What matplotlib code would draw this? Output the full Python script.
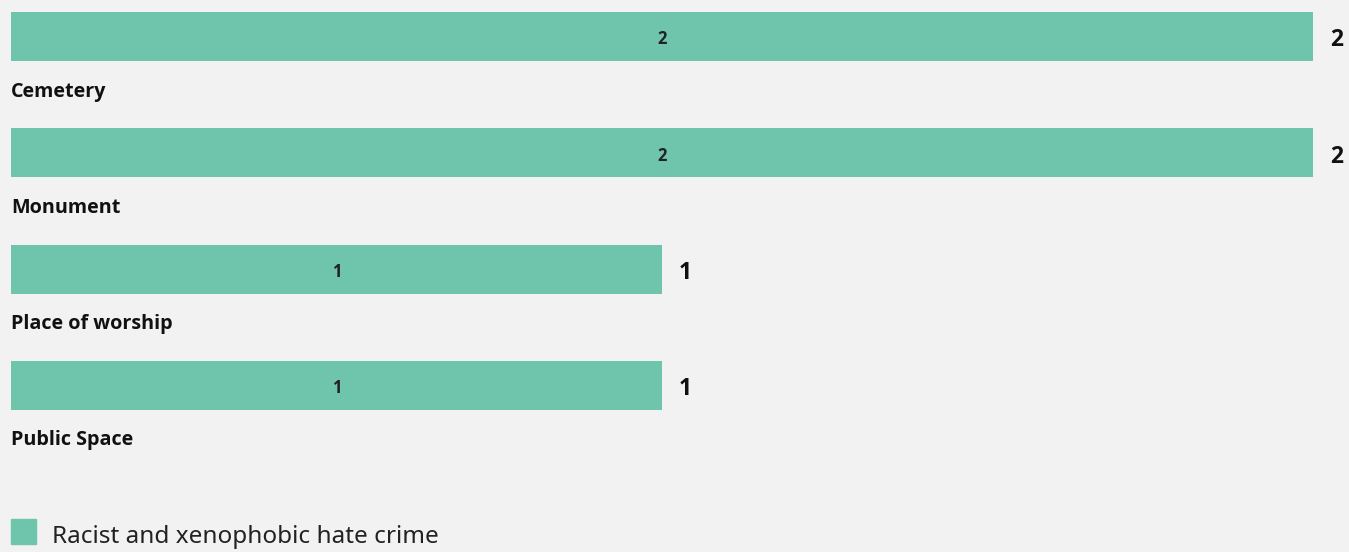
import numpy as np
import matplotlib
matplotlib.use("Agg")
import matplotlib.pyplot as plt

plt.rcParams['font.family'] = ['Open Sans', 'DejaVu Sans']

# data
categories = ['Cemetery', 'Monument', 'Place of worship', 'Public Space']
values = [2, 2, 1, 1]
series_name = 'Racist and xenophobic hate crime'

bar_color = '#6fc5ac'
bg_color = '#f2f2f2'

W, H = 1349, 552
fig = plt.figure(figsize=(W / 100, H / 100), dpi=100)
fig.patch.set_facecolor(bg_color)

# axes: x 0..2 maps to px 11..1313, full height
x0, x1 = 11, 1313
ax = fig.add_axes([x0 / W, 0, (x1 - x0) / W, 1])
ax.set_facecolor(bg_color)
step = 116.3
top = 36.5
ax.set_xlim(0, 2)
ax.set_ylim((H - top) / step, -top / step)

y = np.arange(len(categories))
ax.barh(y, values, height=49 / step, color=bar_color, align='center')

for i, (cat, v) in enumerate(zip(categories, values)):
    # value inside bar
    ax.annotate(str(v), (v / 2, i), xytext=(0, -3), textcoords='offset pixels',
                ha='center', va='center', fontsize=12, fontweight='bold', color='#222222')
    # value after bar
    ax.annotate(str(v), (v, i), xytext=(17, -4), textcoords='offset pixels',
                ha='left', va='center', fontsize=16.5, fontweight='bold', color='#111111')
    # category label under bar
    ax.annotate(cat, (0, i), xytext=(0, -55), textcoords='offset pixels',
                ha='left', va='center', fontsize=14.2, fontweight='bold', color='#111111')

ax.axis('off')

# legend
fig.patches.append(plt.Rectangle((11 / W, 1 - 544 / H), 25 / W, 25 / H,
                                 transform=fig.transFigure, color=bar_color))
fig.text(52 / W, 1 - 537 / H, series_name, ha='left', va='center',
         fontsize=17.5, color='#222222', family=['Noto Sans', 'DejaVu Sans'])

plt.savefig('out.png', dpi=100, facecolor=bg_color)
